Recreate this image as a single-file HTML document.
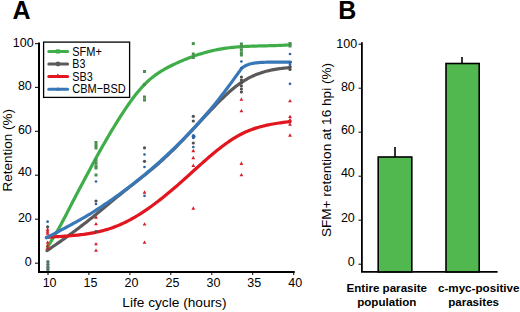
<!DOCTYPE html>
<html><head><meta charset="utf-8"><title>Figure</title><style>
html,body{margin:0;padding:0;background:#fff;}
body{width:520px;height:312px;overflow:hidden;}
svg{display:block;font-family:"Liberation Sans", sans-serif;}
</style></head><body>
<svg width="520" height="312" viewBox="0 0 520 312">
<rect width="520" height="312" fill="#fff"/>
<text x="12.6" y="19.4" font-size="25" font-weight="bold">A</text>
<text x="338.2" y="19.4" font-size="25" font-weight="bold">B</text>
<path d="M39,42.6 V272.8 M38,271.9 H294.8" stroke="#000" stroke-width="2" fill="none"/>
<path d="M35,43.7 H39" stroke="#000" stroke-width="1"/>
<text transform="translate(33.70,46.70) scale(0.940,1)" font-size="13.30" text-anchor="end">100</text>
<path d="M35,87.4 H39" stroke="#000" stroke-width="1"/>
<text transform="translate(31.80,90.30) scale(0.940,1)" font-size="13.30" text-anchor="end">80</text>
<path d="M35,131.3 H39" stroke="#000" stroke-width="1"/>
<text transform="translate(31.80,133.90) scale(0.940,1)" font-size="13.30" text-anchor="end">60</text>
<path d="M35,175.2 H39" stroke="#000" stroke-width="1"/>
<text transform="translate(31.80,176.00) scale(0.940,1)" font-size="13.30" text-anchor="end">40</text>
<path d="M35,219.2 H39" stroke="#000" stroke-width="1"/>
<text transform="translate(31.80,221.50) scale(0.940,1)" font-size="13.30" text-anchor="end">20</text>
<path d="M35,263.2 H39" stroke="#000" stroke-width="1"/>
<text transform="translate(31.80,265.50) scale(0.940,1)" font-size="13.30" text-anchor="end">0</text>
<path d="M48.0,272 V275" stroke="#000" stroke-width="1"/>
<text transform="translate(49.60,286.70) scale(0.940,1)" font-size="13.30" text-anchor="middle">10</text>
<path d="M88.9,272 V275" stroke="#000" stroke-width="1"/>
<text transform="translate(90.50,286.70) scale(0.940,1)" font-size="13.30" text-anchor="middle">15</text>
<path d="M129.9,272 V275" stroke="#000" stroke-width="1"/>
<text transform="translate(131.50,286.70) scale(0.940,1)" font-size="13.30" text-anchor="middle">20</text>
<path d="M170.8,272 V275" stroke="#000" stroke-width="1"/>
<text transform="translate(172.40,286.70) scale(0.940,1)" font-size="13.30" text-anchor="middle">25</text>
<path d="M211.8,272 V275" stroke="#000" stroke-width="1"/>
<text transform="translate(213.40,286.70) scale(0.940,1)" font-size="13.30" text-anchor="middle">30</text>
<path d="M252.7,272 V275" stroke="#000" stroke-width="1"/>
<text transform="translate(254.30,286.70) scale(0.940,1)" font-size="13.30" text-anchor="middle">35</text>
<path d="M293.7,272 V275" stroke="#000" stroke-width="1"/>
<text transform="translate(295.30,286.70) scale(0.940,1)" font-size="13.30" text-anchor="middle">40</text>
<text x="174.4" y="306.7" font-size="13.7" text-anchor="middle">Life cycle (hours)</text>
<text transform="translate(12.3,150.2) rotate(-90)" font-size="13.5" text-anchor="middle">Retention (%)</text>
<path d="M47.60,246.62L49.10,244.38L50.60,242.07L52.10,239.70L53.60,237.27L55.10,234.77L56.60,232.21L58.10,229.59L59.60,226.91L61.10,224.17L62.60,221.37L64.10,218.53L65.60,215.65L67.10,212.75L68.60,209.82L70.10,206.89L71.60,203.97L73.10,201.05L74.60,198.16L76.10,195.28L77.60,192.43L79.10,189.59L80.60,186.76L82.10,183.94L83.60,181.13L85.10,178.32L86.60,175.51L88.10,172.71L89.60,169.90L91.10,167.09L92.60,164.29L94.10,161.51L95.60,158.75L97.10,156.02L98.60,153.30L100.10,150.61L101.60,147.94L103.10,145.30L104.60,142.68L106.10,140.08L107.60,137.51L109.10,134.96L110.60,132.43L112.10,129.93L113.60,127.46L115.10,125.01L116.60,122.58L118.10,120.18L119.60,117.81L121.10,115.46L122.60,113.14L124.10,110.86L125.60,108.61L127.10,106.40L128.60,104.23L130.10,102.11L131.60,100.03L133.10,98.00L134.60,96.02L136.10,94.10L137.60,92.24L139.10,90.43L140.60,88.69L142.10,87.01L143.60,85.40L145.10,83.86L146.60,82.39L148.10,80.99L149.60,79.65L151.10,78.38L152.60,77.16L154.10,76.00L155.60,74.89L157.10,73.83L158.60,72.81L160.10,71.84L161.60,70.91L163.10,70.02L164.60,69.16L166.10,68.33L167.60,67.53L169.10,66.75L170.60,66.00L172.10,65.27L173.60,64.55L175.10,63.84L176.60,63.15L178.10,62.47L179.60,61.80L181.10,61.15L182.60,60.51L184.10,59.88L185.60,59.26L187.10,58.66L188.60,58.07L190.10,57.50L191.60,56.94L193.10,56.39L194.60,55.86L196.10,55.34L197.60,54.84L199.10,54.35L200.60,53.87L202.10,53.41L203.60,52.97L205.10,52.54L206.60,52.12L208.10,51.72L209.60,51.34L211.10,50.97L212.60,50.62L214.10,50.28L215.60,49.96L217.10,49.66L218.60,49.37L220.10,49.10L221.60,48.84L223.10,48.60L224.60,48.38L226.10,48.16L227.60,47.97L229.10,47.78L230.60,47.60L232.10,47.44L233.60,47.29L235.10,47.15L236.60,47.02L238.10,46.90L239.60,46.79L241.10,46.69L242.60,46.59L244.10,46.51L245.60,46.43L247.10,46.35L248.60,46.29L250.10,46.23L251.60,46.17L253.10,46.12L254.60,46.07L256.10,46.03L257.60,45.99L259.10,45.95L260.60,45.91L262.10,45.88L263.60,45.84L265.10,45.81L266.60,45.78L268.10,45.74L269.60,45.71L271.10,45.67L272.60,45.63L274.10,45.59L275.60,45.54L277.10,45.50L278.60,45.44L280.10,45.39L281.60,45.32L283.10,45.25L284.60,45.18L286.10,45.10L287.60,45.01L289.10,44.91L290.00,44.85" stroke="#3fae49" stroke-width="3.2" fill="none" stroke-linecap="round"/>
<path d="M47.00,250.56L48.50,249.56L50.00,248.55L51.50,247.54L53.00,246.53L54.50,245.50L56.00,244.47L57.50,243.43L59.00,242.39L60.50,241.34L62.00,240.28L63.50,239.21L65.00,238.14L66.50,237.06L68.00,235.98L69.50,234.89L71.00,233.79L72.50,232.68L74.00,231.57L75.50,230.45L77.00,229.32L78.50,228.19L80.00,227.04L81.50,225.89L83.00,224.74L84.50,223.58L86.00,222.41L87.50,221.23L89.00,220.04L90.50,218.85L92.00,217.65L93.50,216.44L95.00,215.23L96.50,214.01L98.00,212.78L99.50,211.54L101.00,210.30L102.50,209.06L104.00,207.81L105.50,206.56L107.00,205.31L108.50,204.05L110.00,202.80L111.50,201.56L113.00,200.31L114.50,199.07L116.00,197.84L117.50,196.61L119.00,195.39L120.50,194.17L122.00,192.97L123.50,191.76L125.00,190.57L126.50,189.38L128.00,188.19L129.50,187.01L131.00,185.83L132.50,184.65L134.00,183.48L135.50,182.30L137.00,181.12L138.50,179.94L140.00,178.75L141.50,177.57L143.00,176.37L144.50,175.17L146.00,173.96L147.50,172.75L149.00,171.53L150.50,170.29L152.00,169.05L153.50,167.79L155.00,166.52L156.50,165.23L158.00,163.94L159.50,162.62L161.00,161.29L162.50,159.94L164.00,158.57L165.50,157.19L167.00,155.78L168.50,154.36L170.00,152.92L171.50,151.46L173.00,149.99L174.50,148.50L176.00,147.00L177.50,145.48L179.00,143.96L180.50,142.42L182.00,140.87L183.50,139.31L185.00,137.74L186.50,136.17L188.00,134.58L189.50,132.99L191.00,131.39L192.50,129.79L194.00,128.19L195.50,126.58L197.00,124.96L198.50,123.35L200.00,121.74L201.50,120.12L203.00,118.51L204.50,116.89L206.00,115.28L207.50,113.67L209.00,112.07L210.50,110.48L212.00,108.90L213.50,107.33L215.00,105.77L216.50,104.22L218.00,102.70L219.50,101.19L221.00,99.70L222.50,98.24L224.00,96.80L225.50,95.38L227.00,93.99L228.50,92.64L230.00,91.31L231.50,90.02L233.00,88.76L234.50,87.53L236.00,86.35L237.50,85.21L239.00,84.10L240.50,83.05L242.00,82.03L243.50,81.07L245.00,80.14L246.50,79.27L248.00,78.43L249.50,77.64L251.00,76.89L252.50,76.17L254.00,75.50L255.50,74.86L257.00,74.26L258.50,73.69L260.00,73.16L261.50,72.65L263.00,72.18L264.50,71.74L266.00,71.33L267.50,70.94L269.00,70.58L270.50,70.25L272.00,69.94L273.50,69.65L275.00,69.38L276.50,69.14L278.00,68.91L279.50,68.70L281.00,68.51L282.50,68.33L284.00,68.17L285.50,68.02L287.00,67.88L288.50,67.76L290.00,67.64" stroke="#5a5a5a" stroke-width="3.2" fill="none" stroke-linecap="round" stroke-linejoin="round"/>
<path d="M46.50,237.29L48.00,237.20L49.50,237.11L51.00,237.03L52.50,236.94L54.00,236.85L55.50,236.76L57.00,236.68L58.50,236.59L60.00,236.50L61.50,236.40L63.00,236.31L64.50,236.21L66.00,236.10L67.50,235.99L69.00,235.88L70.50,235.76L72.00,235.63L73.50,235.50L75.00,235.36L76.50,235.21L78.00,235.05L79.50,234.88L81.00,234.70L82.50,234.51L84.00,234.32L85.50,234.10L87.00,233.88L88.50,233.65L90.00,233.40L91.50,233.13L93.00,232.86L94.50,232.56L96.00,232.25L97.50,231.93L99.00,231.59L100.50,231.23L102.00,230.85L103.50,230.46L105.00,230.04L106.50,229.61L108.00,229.16L109.50,228.68L111.00,228.19L112.50,227.67L114.00,227.13L115.50,226.56L117.00,225.98L118.50,225.37L120.00,224.73L121.50,224.07L123.00,223.38L124.50,222.67L126.00,221.94L127.50,221.18L129.00,220.40L130.50,219.59L132.00,218.77L133.50,217.92L135.00,217.05L136.50,216.16L138.00,215.24L139.50,214.31L141.00,213.36L142.50,212.39L144.00,211.40L145.50,210.39L147.00,209.36L148.50,208.32L150.00,207.25L151.50,206.18L153.00,205.08L154.50,203.97L156.00,202.84L157.50,201.70L159.00,200.54L160.50,199.37L162.00,198.19L163.50,196.99L165.00,195.78L166.50,194.55L168.00,193.32L169.50,192.07L171.00,190.81L172.50,189.54L174.00,188.26L175.50,186.97L177.00,185.67L178.50,184.36L180.00,183.04L181.50,181.72L183.00,180.38L184.50,179.04L186.00,177.69L187.50,176.34L189.00,174.99L190.50,173.63L192.00,172.28L193.50,170.92L195.00,169.56L196.50,168.21L198.00,166.86L199.50,165.51L201.00,164.17L202.50,162.83L204.00,161.51L205.50,160.19L207.00,158.88L208.50,157.58L210.00,156.29L211.50,155.02L213.00,153.76L214.50,152.52L216.00,151.29L217.50,150.08L219.00,148.89L220.50,147.72L222.00,146.56L223.50,145.43L225.00,144.33L226.50,143.24L228.00,142.19L229.50,141.15L231.00,140.15L232.50,139.17L234.00,138.23L235.50,137.31L237.00,136.42L238.50,135.57L240.00,134.75L241.50,133.97L243.00,133.22L244.50,132.51L246.00,131.82L247.50,131.18L249.00,130.56L250.50,129.97L252.00,129.41L253.50,128.88L255.00,128.37L256.50,127.89L258.00,127.43L259.50,127.00L261.00,126.59L262.50,126.20L264.00,125.84L265.50,125.49L267.00,125.15L268.50,124.84L270.00,124.54L271.50,124.26L273.00,123.99L274.50,123.73L276.00,123.49L277.50,123.25L279.00,123.03L280.50,122.81L282.00,122.60L283.50,122.40L285.00,122.20L286.50,122.00L288.00,121.81L289.50,121.62L290.00,121.56" stroke="#e2161f" stroke-width="3.2" fill="none" stroke-linecap="round"/>
<path d="M46.40,237.74L48.40,236.71L50.40,235.68L52.40,234.64L54.40,233.59L56.40,232.54L58.40,231.48L60.40,230.41L62.40,229.37L64.40,228.32L66.40,227.25L68.40,226.18L70.40,225.10L72.40,224.02L74.40,222.92L76.40,221.81L78.40,220.70L80.40,219.57L82.40,218.43L84.40,217.29L86.40,216.13L88.40,214.96L90.40,213.77L92.40,212.51L94.40,211.23L96.40,209.94L98.40,208.64L100.40,207.33L102.40,206.01L104.40,204.67L106.40,203.32L108.40,201.96L110.40,200.58L112.40,199.19L114.40,197.79L116.40,196.37L118.40,194.94L120.40,193.49L122.40,192.03L124.40,190.55L126.40,189.06L128.40,187.56L130.40,186.03L132.40,184.49L134.40,182.94L136.40,181.36L138.40,179.77L140.40,178.17L142.40,176.55L144.40,174.90L146.40,173.25L148.40,171.57L150.40,169.88L152.40,168.16L154.40,166.43L156.40,164.68L158.40,162.91L160.40,161.12L162.40,159.31L164.40,157.49L166.40,155.64L168.40,153.77L170.40,151.88L172.40,149.97L174.40,148.04L176.40,146.09L178.40,144.11L180.40,142.12L182.40,140.10L184.40,138.06L186.40,136.00L188.40,133.92L190.40,131.81L192.40,129.68L194.40,127.52L196.40,125.35L198.40,123.15L200.40,120.92L202.40,118.67L204.40,116.40L206.40,114.10L208.40,111.77L210.40,109.42L212.40,107.05L214.40,104.65L216.40,102.16L218.40,99.63L220.40,97.07L222.40,94.48L224.40,91.86L226.40,89.22L228.40,86.55L230.40,83.85L232.40,81.12L234.40,78.37L235.00,77.54L236.00,76.14L237.00,74.75L238.00,73.41L239.00,72.08L240.00,70.67L241.00,69.19L242.00,68.12L243.00,67.29L244.00,66.60L245.00,66.02L246.00,65.52L247.00,65.09L248.00,64.70L249.00,64.34L250.00,64.01L251.00,63.73L252.00,63.50L253.00,63.32L254.00,63.16L255.00,63.02L256.00,62.90L257.00,62.80L258.00,62.71L259.00,62.61L260.00,62.53L261.00,62.46L262.00,62.39L263.00,62.34L264.00,62.30L265.00,62.27L266.00,62.24L267.00,62.22L268.00,62.19L269.00,62.17L270.00,62.15L271.00,62.13L272.00,62.12L273.00,62.11L274.00,62.10L275.00,62.10L276.00,62.10L277.00,62.10L278.00,62.10L279.00,62.10L280.00,62.10L281.00,62.10L282.00,62.10L283.00,62.10L284.00,62.10L285.00,62.10L286.00,62.10L287.00,62.10L288.00,62.10L289.00,62.10L290.00,62.10L290.50,62.10" stroke="#3878b8" stroke-width="3.2" fill="none" stroke-linecap="round" stroke-linejoin="round"/>
<circle cx="47.9" cy="261.8" r="1.75" fill="#56786c"/>
<circle cx="47.9" cy="264.6" r="1.75" fill="#56786c"/>
<circle cx="47.9" cy="267.3" r="1.75" fill="#56786c"/>
<circle cx="47.9" cy="269.6" r="1.75" fill="#56786c"/>
<circle cx="193.6" cy="136.6" r="2.0" fill="#2e64a4"/>
<rect x="94.50" y="141.00" width="3.00" height="3.00" fill="#4a9150"/>
<rect x="94.50" y="144.00" width="3.00" height="3.00" fill="#4a9150"/>
<rect x="94.50" y="146.50" width="3.00" height="3.00" fill="#4a9150"/>
<rect x="94.50" y="158.50" width="3.00" height="3.00" fill="#4a9150"/>
<rect x="94.50" y="161.50" width="3.00" height="3.00" fill="#4a9150"/>
<rect x="94.50" y="164.50" width="3.00" height="3.00" fill="#4a9150"/>
<rect x="94.50" y="166.50" width="3.00" height="3.00" fill="#4a9150"/>
<rect x="94.50" y="173.50" width="3.00" height="3.00" fill="#4a9150"/>
<rect x="143.00" y="70.00" width="3.00" height="3.00" fill="#4a9150"/>
<rect x="143.00" y="83.00" width="3.00" height="3.00" fill="#4a9150"/>
<rect x="143.00" y="95.50" width="3.00" height="3.00" fill="#4a9150"/>
<rect x="143.00" y="98.50" width="3.00" height="3.00" fill="#4a9150"/>
<rect x="191.80" y="42.10" width="3.00" height="3.00" fill="#4a9150"/>
<rect x="191.80" y="52.50" width="3.00" height="3.00" fill="#4a9150"/>
<rect x="191.80" y="56.00" width="3.00" height="3.00" fill="#4a9150"/>
<rect x="239.90" y="42.50" width="3.00" height="3.00" fill="#4a9150"/>
<rect x="239.90" y="45.50" width="3.00" height="3.00" fill="#4a9150"/>
<rect x="239.90" y="48.50" width="3.00" height="3.00" fill="#4a9150"/>
<rect x="239.90" y="51.50" width="3.00" height="3.00" fill="#4a9150"/>
<rect x="239.90" y="53.50" width="3.00" height="3.00" fill="#4a9150"/>
<rect x="288.50" y="42.00" width="3.00" height="3.00" fill="#4a9150"/>
<rect x="288.50" y="44.50" width="3.00" height="3.00" fill="#4a9150"/>
<circle cx="47.60" cy="226.80" r="1.60" fill="#505050"/>
<circle cx="96.00" cy="201.00" r="1.60" fill="#505050"/>
<circle cx="96.00" cy="231.50" r="1.60" fill="#505050"/>
<circle cx="144.50" cy="147.80" r="1.60" fill="#505050"/>
<circle cx="144.50" cy="161.30" r="1.60" fill="#505050"/>
<circle cx="193.30" cy="116.30" r="1.60" fill="#505050"/>
<circle cx="193.30" cy="121.00" r="1.60" fill="#505050"/>
<circle cx="193.30" cy="143.00" r="1.60" fill="#505050"/>
<circle cx="241.40" cy="77.00" r="1.60" fill="#505050"/>
<circle cx="241.40" cy="80.00" r="1.60" fill="#505050"/>
<circle cx="241.40" cy="83.00" r="1.60" fill="#505050"/>
<circle cx="241.40" cy="86.00" r="1.60" fill="#505050"/>
<circle cx="241.40" cy="89.00" r="1.60" fill="#505050"/>
<circle cx="241.40" cy="92.00" r="1.60" fill="#505050"/>
<circle cx="290.00" cy="66.50" r="1.60" fill="#505050"/>
<circle cx="290.00" cy="69.50" r="1.60" fill="#505050"/>
<path d="M47.60,227.46 l1.90,3.40 h-3.80z" fill="#d81c26"/>
<path d="M47.60,229.46 l1.90,3.40 h-3.80z" fill="#d81c26"/>
<path d="M47.60,231.46 l1.90,3.40 h-3.80z" fill="#d81c26"/>
<path d="M47.60,240.46 l1.90,3.40 h-3.80z" fill="#d81c26"/>
<path d="M47.60,243.46 l1.90,3.40 h-3.80z" fill="#d81c26"/>
<path d="M47.60,245.96 l1.90,3.40 h-3.80z" fill="#d81c26"/>
<path d="M96.00,215.26 l1.90,3.40 h-3.80z" fill="#d81c26"/>
<path d="M96.00,221.96 l1.90,3.40 h-3.80z" fill="#d81c26"/>
<path d="M96.00,241.96 l1.90,3.40 h-3.80z" fill="#d81c26"/>
<path d="M96.00,248.46 l1.90,3.40 h-3.80z" fill="#d81c26"/>
<path d="M144.50,190.26 l1.90,3.40 h-3.80z" fill="#d81c26"/>
<path d="M144.50,222.16 l1.90,3.40 h-3.80z" fill="#d81c26"/>
<path d="M193.30,148.76 l1.90,3.40 h-3.80z" fill="#d81c26"/>
<path d="M193.30,155.76 l1.90,3.40 h-3.80z" fill="#d81c26"/>
<path d="M193.30,163.56 l1.90,3.40 h-3.80z" fill="#d81c26"/>
<path d="M193.30,206.26 l1.90,3.40 h-3.80z" fill="#d81c26"/>
<path d="M241.40,97.46 l1.90,3.40 h-3.80z" fill="#d81c26"/>
<path d="M241.40,108.96 l1.90,3.40 h-3.80z" fill="#d81c26"/>
<path d="M241.40,161.56 l1.90,3.40 h-3.80z" fill="#d81c26"/>
<path d="M241.40,172.96 l1.90,3.40 h-3.80z" fill="#d81c26"/>
<path d="M144.50,240.46 l1.90,3.40 h-3.80z" fill="#d81c26"/>
<path d="M290.00,98.96 l1.90,3.40 h-3.80z" fill="#d81c26"/>
<path d="M290.00,114.66 l1.90,3.40 h-3.80z" fill="#d81c26"/>
<path d="M290.00,117.76 l1.90,3.40 h-3.80z" fill="#d81c26"/>
<path d="M290.00,122.36 l1.90,3.40 h-3.80z" fill="#d81c26"/>
<path d="M290.00,133.36 l1.90,3.40 h-3.80z" fill="#d81c26"/>
<circle cx="47.60" cy="221.70" r="1.35" fill="#2e64a4"/>
<circle cx="144.50" cy="154.50" r="1.35" fill="#2e64a4"/>
<circle cx="144.50" cy="167.00" r="1.35" fill="#2e64a4"/>
<circle cx="96.00" cy="181.50" r="1.35" fill="#2e64a4"/>
<circle cx="96.00" cy="204.00" r="1.35" fill="#2e64a4"/>
<circle cx="144.50" cy="195.80" r="1.35" fill="#2e64a4"/>
<circle cx="193.30" cy="135.60" r="1.35" fill="#2e64a4"/>
<circle cx="193.30" cy="138.00" r="1.35" fill="#2e64a4"/>
<circle cx="193.30" cy="147.00" r="1.35" fill="#2e64a4"/>
<circle cx="241.40" cy="61.50" r="1.35" fill="#2e64a4"/>
<circle cx="241.40" cy="68.00" r="1.35" fill="#2e64a4"/>
<circle cx="290.00" cy="54.00" r="1.35" fill="#2e64a4"/>
<circle cx="290.00" cy="62.50" r="1.35" fill="#2e64a4"/>
<circle cx="290.00" cy="64.50" r="1.35" fill="#2e64a4"/>
<circle cx="290.00" cy="83.80" r="1.35" fill="#2e64a4"/>
<rect x="43.6" y="42.1" width="86" height="55.3" fill="#fff" stroke="#000" stroke-width="1.3"/>
<path d="M48.8,51.4 H67.6" stroke="#3fae49" stroke-width="3" stroke-linecap="round"/>
<rect x="55.8" y="49.3" width="4" height="4.2" fill="#3fae49"/>
<text x="72.3" y="55.5" font-size="12.9" textLength="29.6" lengthAdjust="spacingAndGlyphs">SFM+</text>
<path d="M48.8,64.0 H67.6" stroke="#5a5a5a" stroke-width="3" stroke-linecap="round"/>
<circle cx="58" cy="64.0" r="2.4" fill="#5a5a5a"/>
<text x="72.3" y="68.1" font-size="12.9" textLength="13.1" lengthAdjust="spacingAndGlyphs">B3</text>
<path d="M48.8,76.6 H67.6" stroke="#e2161f" stroke-width="3" stroke-linecap="round"/>
<path d="M57.8,73.4 l2,3 h-4z" fill="#e2161f"/>
<text x="72.3" y="80.7" font-size="12.9" textLength="20.5" lengthAdjust="spacingAndGlyphs">SB3</text>
<path d="M48.8,89.3 H67.6" stroke="#3878b8" stroke-width="3" stroke-linecap="round"/>
<circle cx="57.8" cy="89.3" r="1.8" fill="#3878b8"/>
<text x="72.3" y="93.4" font-size="12.9" textLength="53.4" lengthAdjust="spacingAndGlyphs">CBM−BSD</text>
<path d="M361.9,42.3 V272.8 M361,271.9 H497.6" stroke="#000" stroke-width="1.8" fill="none"/>
<path d="M358.5,44.2 H362" stroke="#000" stroke-width="1"/>
<text transform="translate(357.10,48.10) scale(0.940,1)" font-size="13.30" text-anchor="end">100</text>
<path d="M358.5,88.2 H362" stroke="#000" stroke-width="1"/>
<text transform="translate(354.80,90.95) scale(0.940,1)" font-size="13.30" text-anchor="end">80</text>
<path d="M358.5,132.2 H362" stroke="#000" stroke-width="1"/>
<text transform="translate(354.80,134.15) scale(0.940,1)" font-size="13.30" text-anchor="end">60</text>
<path d="M358.5,176.2 H362" stroke="#000" stroke-width="1"/>
<text transform="translate(354.80,176.75) scale(0.940,1)" font-size="13.30" text-anchor="end">40</text>
<path d="M358.5,220.2 H362" stroke="#000" stroke-width="1"/>
<text transform="translate(354.80,222.05) scale(0.940,1)" font-size="13.30" text-anchor="end">20</text>
<path d="M358.5,264.2 H362" stroke="#000" stroke-width="1"/>
<text transform="translate(354.80,265.85) scale(0.940,1)" font-size="13.30" text-anchor="end">0</text>
<rect x="378.2" y="157" width="33.6" height="114.9" fill="#50b84e" stroke="#000" stroke-width="1.6"/>
<rect x="446" y="63.5" width="33.2" height="208.4" fill="#50b84e" stroke="#000" stroke-width="1.6"/>
<path d="M395,147 V157 M462,57 V63.5" stroke="#000" stroke-width="1.6"/>
<text x="386.8" y="292.2" font-size="11.6" font-weight="bold" text-anchor="middle">Entire parasite</text>
<text x="386.8" y="306.2" font-size="11.6" font-weight="bold" text-anchor="middle">population</text>
<text x="478.7" y="292.2" font-size="11.65" font-weight="bold" text-anchor="middle">c-myc-positive</text>
<text x="473.6" y="306.2" font-size="11.6" font-weight="bold" text-anchor="middle">parasites</text>
<text transform="translate(330.6,150) rotate(-90)" font-size="13.6" text-anchor="middle">SFM+ retention at 16 hpi (%)</text>
</svg>
</body></html>
